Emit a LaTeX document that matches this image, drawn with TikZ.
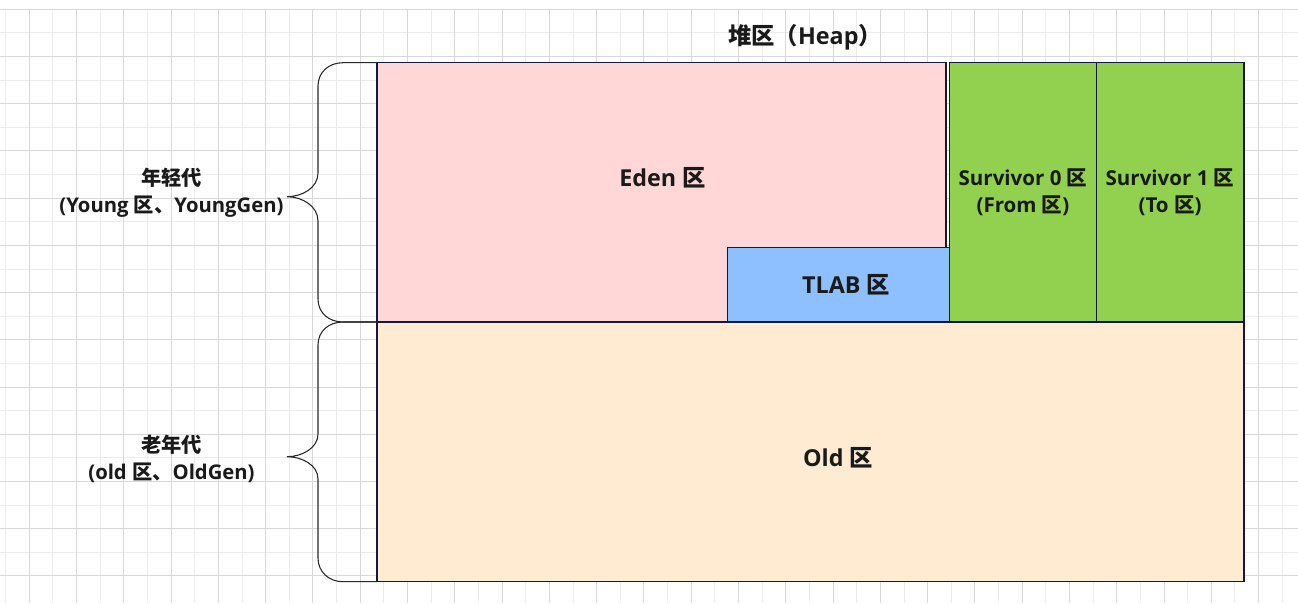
\documentclass[tikz,border=0pt]{standalone}
\usepackage{fontspec}
\setmainfont{Open Sans}
\newfontfamily\cjkf{Noto Sans CJK SC}
\newcommand{\zh}[1]{{\cjkf #1}}
\definecolor{gridlight}{RGB}{236,236,236}
\definecolor{griddark}{RGB}{216,216,216}
\definecolor{edenfill}{RGB}{255,215,215}
\definecolor{tlabfill}{RGB}{142,192,255}
\definecolor{survfill}{RGB}{146,208,80}
\definecolor{oldfill}{RGB}{255,235,209}
\definecolor{edgecol}{RGB}{22,22,66}
\definecolor{bracecol}{RGB}{40,40,40}
\definecolor{txt}{RGB}{26,26,26}
\tikzset{
  area/.style={draw=edgecol, line width=0.8pt},
  bracepath/.style={draw=bracecol, line width=0.8pt},
  lbl/.style={text=txt, font=\bfseries, inner sep=0pt, align=center},
  big/.style={lbl, font=\bfseries\fontsize{17.5}{20}\selectfont},
  mid/.style={lbl, font=\bfseries\fontsize{15.4}{20.25}\selectfont},
  side/.style={lbl, font=\bfseries\fontsize{15.2}{20.25}\selectfont},
  title/.style={lbl, font=\bfseries\fontsize{17.5}{20}\selectfont},
}
\begin{document}
\begin{tikzpicture}[x=0.75pt, y=-0.75pt]
\useasboundingbox (0,0) rectangle (1298,603);
\fill[white] (0,0) rectangle (1298,603);
% grid
\foreach \m in {0,...,27} {
  \draw[gridlight, line width=0.75pt] ({5.67+47.28*\m},9.3) -- ({5.67+47.28*\m},603);
}
\foreach \m in {0,...,11} {
  \draw[gridlight, line width=0.75pt] (0,{32.9+47.22*\m}) -- (1298,{32.9+47.22*\m});
}
\foreach \m in {0,...,26} {
  \draw[griddark, line width=0.75pt] ({29.31+47.28*\m},9.3) -- ({29.31+47.28*\m},603);
}
\foreach \m in {0,...,12} {
  \draw[griddark, line width=0.75pt] (0,{9.3+47.22*\m}) -- (1298,{9.3+47.22*\m});
}
% areas
\draw[area, fill=edenfill] (377,62.7) rectangle (946,322);
\draw[area, fill=tlabfill] (727.3,247.3) rectangle (949.3,322);
\draw[area, fill=survfill] (949.3,62.7) rectangle (1096.7,322);
\draw[area, fill=survfill] (1096.7,62.7) rectangle (1244,322);
\draw[area, fill=oldfill] (377,322) rectangle (1244,581.7);
% braces
\draw[bracepath] (377,62.7) -- (343,62.7) .. controls (329,62.7) and (318,72) .. (318,86)
  -- (318,173) .. controls (318,188) and (302,196.7) .. (287,196.7)
  .. controls (302,196.7) and (318,206) .. (318,221)
  -- (318,299) .. controls (318,313) and (329,322) .. (343,322) -- (377,322);
\draw[bracepath] (377,322) -- (343,322) .. controls (329,322) and (318,331) .. (318,345)
  -- (318,434) .. controls (318,448) and (302,456.7) .. (287,456.7)
  .. controls (302,456.7) and (318,465) .. (318,479)
  -- (318,558) .. controls (318,572) and (329,581.7) .. (343,581.7) -- (377,581.7);
% labels
\node[title] (heap) at (805,37) {\zh{堆区（}Heap\zh{）}};
\node[big] (eden) at (662.5,177.5) {Eden \zh{区}};
\node[big] (tlab) at (846,285) {TLAB \zh{区}};
\node[mid] (s0) at (1023,192.5) {Survivor 0 \zh{区}\\(From \zh{区})};
\node[mid] (s1) at (1170,192.5) {Survivor 1 \zh{区}\\(To \zh{区})};
\node[big] (old) at (838,458) {Old \zh{区}};
\node[side] (young) at (171.5,192.5) {\zh{年轻代}\\(Young \zh{区、}YoungGen)};
\node[side] (oldgen) at (171.5,458.5) {\zh{老年代}\\(old \zh{区、}OldGen)};
\end{tikzpicture}
\end{document}
